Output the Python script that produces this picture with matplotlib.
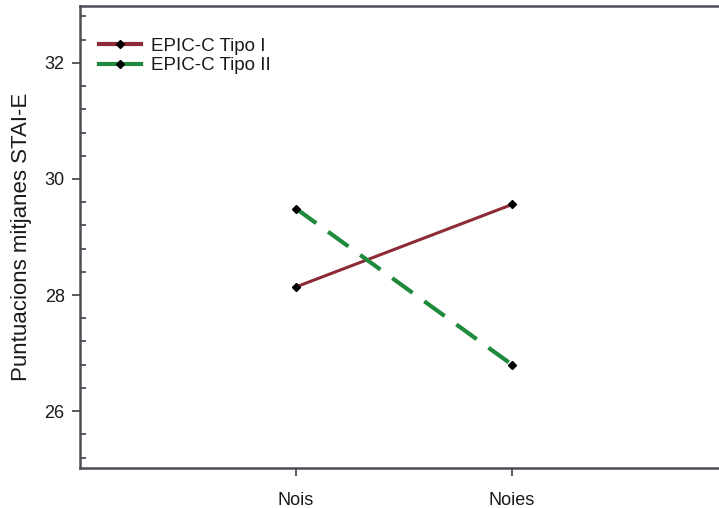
import matplotlib
matplotlib.use("Agg")
import matplotlib.pyplot as plt
from matplotlib.ticker import MultipleLocator
from matplotlib.lines import Line2D

plt.rcParams['font.family'] = ['Liberation Sans', 'DejaVu Sans']

groups = ["Nois", "Noies"]
tipo_1 = [28.14, 29.56]
tipo_2 = [29.49, 26.80]
series_labels = ["EPIC-C Tipo I", "EPIC-C Tipo II"]
y_ticks = [26, 28, 30, 32]

col_1 = "#8c2b35"
col_2 = "#1f8a3c"

fig = plt.figure(figsize=(7.19, 5.08), dpi=100)
ax = fig.add_axes([80 / 719, 1 - 468 / 508, 648 / 719, 462 / 508])

x = [1, 2]
ax.plot(x, tipo_1, color=col_1, lw=2.2, marker="D", ms=4,
        mfc="black", mec="black")
ax.plot(x, tipo_2, color=col_2, lw=3.0, dashes=(6, 3.5), marker="D", ms=4,
        mfc="black", mec="black")

ax.set_xlim(0, 3)
ax.set_ylim(25.02, 32.98)
ax.set_xticks(x)
ax.set_xticklabels(groups)
ax.set_yticks(y_ticks)
ax.yaxis.set_minor_locator(MultipleLocator(0.4))

spine_col = "#4a4f55"
for s in ["left", "bottom", "top"]:
    ax.spines[s].set_color(spine_col)
    ax.spines[s].set_linewidth(1.8)
ax.spines["right"].set_visible(False)

ax.tick_params(axis="y", which="major", direction="out", length=6, width=1.3,
               color=spine_col, labelsize=13, pad=5, labelcolor="#1a1a1a")
ax.tick_params(axis="y", which="minor", direction="in", length=4, width=1.3,
               color=spine_col)
ax.tick_params(axis="x", which="major", direction="out", length=6, width=1.3,
               color=spine_col, labelsize=13, pad=11, labelcolor="#1a1a1a")

ax.set_ylabel("Puntuacions mitjanes STAI-E", fontsize=16, labelpad=9,
              color="#1a1a1a")

handles = [
    Line2D([], [], color=col_1, lw=3, marker="D", ms=4, mfc="black", mec="black"),
    Line2D([], [], color=col_2, lw=3, marker="D", ms=4, mfc="black", mec="black"),
]
leg = ax.legend(handles, series_labels, loc="upper left",
                bbox_to_anchor=(0.003, 0.968), frameon=False,
                fontsize=13.5, handlelength=2.25, handletextpad=0.55,
                labelspacing=0.12)
for t in leg.get_texts():
    t.set_color("#1a1a1a")

fig.savefig("out.png", dpi=100)
